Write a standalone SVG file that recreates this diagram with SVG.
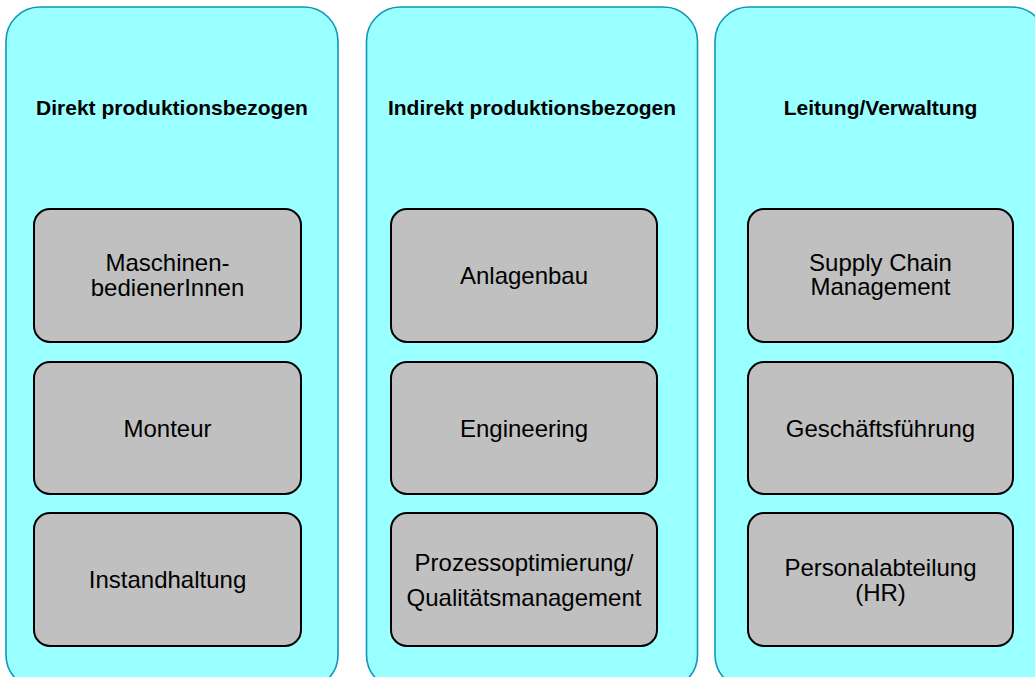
<svg xmlns="http://www.w3.org/2000/svg" width="1035" height="677" viewBox="0 0 1035 677">
<style>
.col{fill:#99ffff;stroke:#1196ba;stroke-width:1.6}
.box{fill:#c0c0c0;stroke:#000;stroke-width:2}
.t{font-family:"Liberation Sans",Arial,sans-serif;font-size:21px;font-weight:bold;fill:#000;text-anchor:middle}
.l{font-family:"Liberation Sans",Arial,sans-serif;font-size:24px;fill:#000;text-anchor:middle}
</style>
<rect width="1035" height="677" fill="#fff"/>
<g id="col1">
<rect class="col" x="6" y="7" width="332" height="682" rx="34"/>
<text class="t" x="172" y="115">Direkt produktionsbezogen</text>
</g>
<g id="col2">
<rect class="col" x="366.5" y="7" width="331" height="682" rx="34"/>
<text class="t" x="532" y="115">Indirekt produktionsbezogen</text>
</g>
<g id="col3">
<rect class="col" x="715" y="7" width="331" height="682" rx="34"/>
<text class="t" x="880.5" y="115">Leitung/Verwaltung</text>
</g>
<g id="n1"><rect class="box" x="34" y="209" width="267" height="133" rx="16"/>
<text class="l" x="167.5" y="271">Maschinen-</text><text class="l" x="167.5" y="295.5">bedienerInnen</text></g>
<g id="n2"><rect class="box" x="34" y="362" width="267" height="132" rx="16"/>
<text class="l" x="167.5" y="436.5">Monteur</text></g>
<g id="n3"><rect class="box" x="34" y="513" width="267" height="133" rx="16"/>
<text class="l" x="167.5" y="588">Instandhaltung</text></g>
<g id="n4"><rect class="box" x="391" y="209" width="266" height="133" rx="16"/>
<text class="l" x="524" y="284">Anlagenbau</text></g>
<g id="n5"><rect class="box" x="391" y="362" width="266" height="132" rx="16"/>
<text class="l" x="524" y="436.5">Engineering</text></g>
<g id="n6"><rect class="box" x="391" y="513" width="266" height="133" rx="16"/>
<text class="l" x="524" y="571">Prozessoptimierung/</text><text class="l" x="524" y="605.5">Qualitätsmanagement</text></g>
<g id="n7"><rect class="box" x="748" y="209" width="265" height="133" rx="16"/>
<text class="l" x="880.5" y="270.5">Supply Chain</text><text class="l" x="880.5" y="295">Management</text></g>
<g id="n8"><rect class="box" x="748" y="362" width="265" height="132" rx="16"/>
<text class="l" x="880.5" y="436.5">Geschäftsführung</text></g>
<g id="n9"><rect class="box" x="748" y="513" width="265" height="133" rx="16"/>
<text class="l" x="880.5" y="576">Personalabteilung</text><text class="l" x="880.5" y="601">(HR)</text></g>
<g id="connectors"/>
</svg>
